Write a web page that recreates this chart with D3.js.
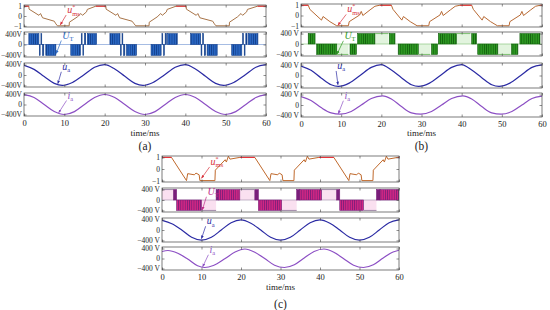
<!DOCTYPE html>
<html>
<head>
<meta charset="utf-8">
<script src="https://cdn.jsdelivr.net/npm/d3@7"></script>
<style>
body { margin: 0; background: #fff; }
svg { display: block; }
text { font-family: "Liberation Serif", "DejaVu Serif", serif; }
</style>
</head>
<body>
<div id="chart"></div>
<script>
// ---- shared ticks ----
const timeTicks = [0, 10, 20, 30, 40, 50, 60];
const refTicks = [-1, 0, 1];
const refTickLabels = ["\u22121", "0", "1"];
const voltTicks = [-400, 0, 400];
const voltLabelsA = ["\u2212400V", "0", "400V"];
const voltLabelsBC = ["\u2212400 V", "0", "400 V"];

// ---- panel (a) ----
const refTA = [0,1.2,1.25,3.7,4.1,4.6,7.5,7.9,8.3,11.2,11.25,13.2,14.1,14.5,15.5,15.7,17.8,20.3,
  20.35,22.8,23.2,23.7,26.8,27.3,27.7,31.0,31.05,33.0,33.9,34.3,35.3,35.5,37.7,40.2,
  40.25,42.7,43.1,43.6,46.8,47.2,47.6,50.9,50.95,52.9,53.8,54.2,55.2,55.4,57.9,60];
const refVA = [1,1,0.7,0.07,0.25,-0.18,-0.53,-0.8,-1,-1,-0.63,-0.1,0.25,0.07,0.42,0.67,1,1,
  0.7,0.07,0.25,-0.18,-0.53,-0.8,-1,-1,-0.63,-0.1,0.25,0.07,0.42,0.67,1,1,
  0.7,0.07,0.25,-0.18,-0.53,-0.8,-1,-1,-0.63,-0.1,0.25,0.07,0.42,0.67,1,1];
const utStartA = [1.2,3.8,4.2,4.6,5.4,11.6,14.2,14.6,15.0,15.7, 21.3,23.9,24.3,24.7,25.4,31.5,34.2,34.6,35.0,35.6, 41.3,43.9,44.3,44.7,45.4,51.5,54.2,54.6,55.0,55.6];
const utEndA   = [3.7,4.0,4.4,4.9,7.9,14.0,14.4,14.8,15.3,18.0, 23.8,24.1,24.5,25.0,27.9,34.0,34.4,34.8,35.3,38.0, 43.8,44.1,44.5,45.0,47.9,54.0,54.4,54.8,55.3,58.0];
const utLevelA = [1,-1,1,-1,-1,-1,1,-1,1,1, 1,-1,1,-1,-1,-1,1,-1,1,1, 1,-1,1,-1,-1,-1,1,-1,1,1];
const utKindA  = ["b","p","p","p","b","b","p","p","p","b", "b","p","p","p","b","b","p","p","p","b", "b","p","p","p","b","b","p","p","p","b"];
const uaTA = [0,2.5,5,7.5,9.5,12,14.8,17.5,20,22.5,25,27.5,29.5,32,34.8,37.5,40,42.5,45,47.5,49.5,52,54.8,57.5,60];
const uaVA = [370,215,-60,-320,-400,-290,0,300,400,230,-50,-320,-400,-290,0,300,400,230,-50,-320,-400,-290,0,300,395];
const iaTA = [0,2.5,5,7.5,10,12.5,15,17.5,20,22.5,25,27.5,30,32.5,35,37.5,40,42.5,45,47.5,50,52.5,55,57.5,60];
const iaVA = [395,280,0,-280,-400,-285,0,280,400,280,0,-280,-400,-285,0,280,400,280,0,-280,-400,-285,0,280,395];

// ---- panel (b) ----
const refTB = [0,1.8,2.2,5.1,5.5,7.2,8.9,11.8,12.0,14.6,15.0,15.4,17.2,18.4,19.6,22.5,
  22.9,25.1,25.5,27.2,28.9,31.8,32.0,34.6,35.0,35.4,37.2,38.4,39.6,42.5,
  42.9,45.1,45.5,47.2,48.9,51.8,52.0,54.6,55.0,55.4,57.2,58.4,59.6,60];
const refVB = [1,1,0.6,-0.45,-0.1,-0.6,-1,-1,-0.6,0.05,0.4,0.0,0.55,0.9,1,1,
  0.6,-0.45,-0.1,-0.6,-1,-1,-0.6,0.05,0.4,0.0,0.55,0.9,1,1,
  0.6,-0.45,-0.1,-0.6,-1,-1,-0.6,0.05,0.4,0.0,0.55,0.9,1,1];
const utStartB = [1.8,3.9,8.9,12.2,14.1,18.4, 22.0,24.2,29.2,32.5,34.2,38.7, 42.5,44.0,49.0,52.4,54.5];
const utEndB   = [3.5,8.9,11.8,13.8,18.4,21.8, 23.4,29.2,32.2,34.0,38.7,42.2, 43.7,49.0,52.2,54.0,59.5];
const utLevelB = [1,-1,-1,-1,1,1, 1,-1,-1,-1,1,1, 1,-1,-1,-1,1];
const utKindB  = ["b","b","f","b","b","f", "b","b","f","b","b","f", "b","b","f","b","b"];
const uaTB = [0,2.5,5,7.5,9.3,12,14.7,17.5,20,22.5,25,27.5,29.3,32,34.7,37.5,40,42.5,45,47.5,49.3,52,54.7,57.5,60];
const uaVB = [350,190,-90,-340,-400,-280,0,300,400,200,-80,-340,-400,-280,0,300,400,200,-80,-340,-400,-280,0,300,390];
const iaTB = [0,2.5,5,7.5,9.8,12.5,15,17.5,20.3,22.5,25,27.5,29.8,32.5,35,37.5,40.3,42.5,45,47.5,49.8,52.5,55,57.5,60];
const iaVB = [320,170,-100,-300,-350,-250,0,250,350,230,-60,-300,-350,-250,0,250,350,230,-60,-300,-350,-250,0,250,340];

// ---- panel (c) ----
const refTC = [0,2.4,6.2,6.5,8.2,8.6,9.4,9.6,13.4,13.5,16.0,16.3,16.8,17.2,19.7,23.5,
  27.3,27.6,29.3,29.7,30.4,30.6,33.4,33.5,36.0,36.3,36.8,37.2,39.7,43.5,
  47.3,47.6,49.3,49.7,50.4,50.6,53.4,53.5,56.0,56.3,56.8,57.2,59.7,60];
const refVC = [1,1,-1,-0.4,-0.5,-0.35,-0.5,-1,-1,-0.1,0.8,0.6,1.1,0.85,1,1,
  -1,-0.4,-0.5,-0.35,-0.5,-1,-1,-0.1,0.8,0.6,1.1,0.85,1,1,
  -1,-0.4,-0.5,-0.35,-0.5,-1,-1,-0.1,0.8,0.6,1.1,0.85,1,1];
const utStartC = [0,2.9,3.7,10,13.7,14.3,19.7,23.5,24.4,30.3,34.1,34.9,40.4,44.2,45,51,54.3,55.2];
const utEndC   = [2.9,3.7,10,13.7,14.3,19.7,23.5,24.4,30.3,34.1,34.9,40.4,44.2,45,51,54.3,55.2,60];
const utLevelC = [1,1,-1,-1,1,1,1,1,-1,-1,1,1,1,1,-1,-1,1,1];
const utKindC  = ["f","p","b","f","p","b","f","p","b","f","p","b","f","p","b","f","p","b"];
const uaTC = [0,2.5,5,7.5,10,12.5,15,17.5,20,22.5,25,27.5,30,32.5,35,37.5,40,42.5,45,47.5,50,52.5,55,57.5,60];
const uaVC = [370,240,0,-280,-390,-280,0,280,390,260,0,-280,-390,-280,0,280,390,260,0,-280,-390,-280,0,280,385];
const iaTC = [0,1.5,4,6.5,9,10.8,13,16,18.5,21,23.5,26,28.5,31,33.5,36,38.5,41,43.5,46,48.5,51,53.5,56,58.5,60];
const iaVC = [280,320,210,-20,-290,-360,-280,0,260,380,250,0,-270,-360,-250,20,280,380,250,-10,-270,-360,-250,20,260,330];

// ---- layout ----
const panels = [
  { cap: "(a)", left: 24, right: 266, rows: [[5,27],[32,57],[63,87],[93,116]], xlabY: 136, capY: 150,
    refT: refTA, refV: refVA, utS: utStartA, utE: utEndA, utL: utLevelA, utK: utKindA,
    uaT: uaTA, uaV: uaVA, iaT: iaTA, iaV: iaVA, vLab: voltLabelsA,
    refColor: "#a87448", utColor: "#2a68c4", utDark: "#123f8c", utFlat: "#6a8fd0", utPale: "#e4f4fa", utLabel: "#2a68c4",
    ann: [[10.7,0.3,9.0,-0.9],[9.5,220,8.0,-330],[9.5,200,8.4,-330],[10.8,240,8.6,-330]] },
  { cap: "(b)", left: 301, right: 542, rows: [[4,27],[32,56],[63,88],[93,117]], xlabY: 136, capY: 150,
    refT: refTB, refV: refVB, utS: utStartB, utE: utEndB, utL: utLevelB, utK: utKindB,
    uaT: uaTB, uaV: uaVB, iaT: iaTB, iaV: iaVB, vLab: voltLabelsBC,
    refColor: "#b86a34", utColor: "#2e9a22", utDark: "#12600e", utFlat: "#7cc070", utPale: "#e2f4de", utLabel: "#2e9a22",
    ann: [[11.5,0.3,9.2,-0.95],[10.8,200,9.0,-380],[9.0,240,9.2,-340],[10.8,240,9.3,-330]] },
  { cap: "(c)", left: 162, right: 399, rows: [[156,182],[188,212],[218,242],[247,270]], xlabY: 290, capY: 308,
    refT: refTC, refV: refVC, utS: utStartC, utE: utEndC, utL: utLevelC, utK: utKindC,
    uaT: uaTC, uaV: uaVC, iaT: iaTC, iaV: iaVC, vLab: voltLabelsBC,
    refColor: "#c0692c", utColor: "#d22683", utDark: "#7a1e7a", utFlat: "#a08aa8", utPale: "#fae0f0", utLabel: "#c02a88",
    ann: [[12.3,0.35,10.0,-0.8],[11.5,200,10.2,-380],[11.3,220,10.0,-330],[12.0,230,10.3,-330]] }
];

const uaColor = "#2b2ba4";
const iaColor = "#8c4fc4";

const svg = d3.select("#chart").append("svg")
  .attr("width", 550).attr("height", 310);
const defs = svg.append("defs");

function addMarker(id, color) {
  defs.append("marker").attr("id", id)
    .attr("viewBox", "0 0 10 10").attr("refX", 9).attr("refY", 5)
    .attr("markerWidth", 5).attr("markerHeight", 5).attr("orient", "auto")
    .append("path").attr("d", "M0,1L10,5L0,9z").attr("fill", color);
}
function addStripes(id, bg, fg) {
  const p = defs.append("pattern").attr("id", id)
    .attr("patternUnits", "userSpaceOnUse").attr("width", 2.2).attr("height", 10);
  p.append("rect").attr("width", 2.2).attr("height", 10).attr("fill", bg);
  p.append("rect").attr("width", 0.8).attr("height", 10).attr("fill", fg);
}

function label(g, x, y, main, sub, sup, color) {
  const t = g.append("text").attr("x", x).attr("y", y).attr("fill", color)
    .attr("font-size", 10);
  t.append("tspan").attr("font-style", "italic").text(main);
  if (sup) t.append("tspan").attr("font-size", 6).attr("dy", -4).text(sup);
  t.append("tspan").attr("font-size", 6.5).attr("dx", sup ? -3 : 0).attr("dy", sup ? 6.5 : 2.5).text(sub);
}

panels.forEach(function(p, pi) {
  const g = svg.append("g");
  const x = d3.scaleLinear().domain([0, 60]).range([p.left, p.right]);
  const ys = p.rows.map(function(r, i) {
    const dom = i === 0 ? [-1.12, 1.12] : [-460, 460];
    return d3.scaleLinear().domain(dom).range([r[1], r[0]]);
  });
  const mk = "arr" + pi;
  addStripes("str" + pi, p.utColor, p.utDark);

  p.rows.forEach(function(r, i) {
    defs.append("clipPath").attr("id", "clip" + pi + i)
      .append("rect").attr("x", p.left).attr("y", r[0]).attr("width", p.right - p.left).attr("height", r[1] - r[0]);
  });

  // --- row 1: reference u* ---
  const refPts = p.refT.map(function(t, i) { return [t, p.refV[i]]; });
  const refLine = d3.line().x(function(d) { return x(d[0]); }).y(function(d) { return ys[0](d[1]); });
  g.append("path").datum(refPts)
    .attr("clip-path", "url(#clip" + pi + "0)")
    .attr("fill", "none").attr("stroke", p.refColor).attr("stroke-width", 1)
    .attr("d", refLine);
  // saturated tops drawn in red
  const tops = [];
  refPts.forEach(function(d, i) {
    if (i > 0 && d[1] >= 1 && refPts[i - 1][1] >= 1) tops.push([refPts[i - 1], d]);
  });
  g.selectAll("path.top").data(tops).enter().append("path").attr("class", "top")
    .attr("clip-path", "url(#clip" + pi + "0)")
    .attr("fill", "none").attr("stroke", "#e8303a").attr("stroke-width", 1.1)
    .attr("d", refLine);

  // --- row 2: U_T ---
  const y2 = ys[1];
  const ut = p.utS.map(function(s, i) { return { s: s, e: p.utE[i], l: p.utL[i] * 400, k: p.utK[i] }; });
  const utG = g.append("g").attr("clip-path", "url(#clip" + pi + "1)");
  // pale band behind held (flat) levels
  utG.selectAll("rect.pale").data(ut.filter(function(d) { return d.k === "f"; })).enter().append("rect")
    .attr("class", "pale")
    .attr("x", function(d) { return x(d.s); })
    .attr("width", function(d) { return x(d.e) - x(d.s); })
    .attr("y", function(d) { return Math.min(y2(0), y2(d.l)); })
    .attr("height", function(d) { return Math.abs(y2(d.l) - y2(0)); })
    .attr("fill", p.utPale);
  utG.append("line").attr("x1", p.left).attr("x2", p.right).attr("y1", y2(0)).attr("y2", y2(0))
    .attr("stroke", p.utFlat).attr("stroke-width", 0.6);
  utG.selectAll("rect.blk").data(ut.filter(function(d) { return d.k !== "f"; })).enter().append("rect")
    .attr("class", "blk")
    .attr("x", function(d) { return x(d.s); })
    .attr("width", function(d) { return x(d.e) - x(d.s); })
    .attr("y", function(d) { return Math.min(y2(0), y2(d.l)); })
    .attr("height", function(d) { return Math.abs(y2(d.l) - y2(0)); })
    .attr("fill", function(d) { return d.k === "b" ? "url(#str" + pi + ")" : p.utDark; })
    .attr("stroke", p.utDark).attr("stroke-width", 0.6);
  utG.selectAll("line.flat").data(ut.filter(function(d) { return d.k === "f"; })).enter().append("line")
    .attr("class", "flat")
    .attr("x1", function(d) { return x(d.s); }).attr("x2", function(d) { return x(d.e); })
    .attr("y1", function(d) { return y2(d.l); }).attr("y2", function(d) { return y2(d.l); })
    .attr("stroke", p.utFlat).attr("stroke-width", 1);

  // --- rows 3 & 4: u_a, i_a ---
  const sineLine = function(yy) {
    return d3.line().curve(d3.curveMonotoneX)
      .x(function(d) { return x(d[0]); }).y(function(d) { return yy(d[1]); });
  };
  g.append("path").datum(p.uaT.map(function(t, i) { return [t, p.uaV[i]]; }))
    .attr("clip-path", "url(#clip" + pi + "2)")
    .attr("fill", "none").attr("stroke", uaColor).attr("stroke-width", 1.2)
    .attr("d", sineLine(ys[2]));
  g.append("path").datum(p.iaT.map(function(t, i) { return [t, p.iaV[i]]; }))
    .attr("clip-path", "url(#clip" + pi + "3)")
    .attr("fill", "none").attr("stroke", iaColor).attr("stroke-width", 1.2)
    .attr("d", sineLine(ys[3]));

  // --- frames and axes ---
  p.rows.forEach(function(r, i) {
    const yy = ys[i];
    g.append("rect").attr("x", p.left).attr("y", r[0])
      .attr("width", p.right - p.left).attr("height", r[1] - r[0])
      .attr("fill", "none").attr("stroke", "#444").attr("stroke-width", 0.7);
    g.append("g").attr("class", "xax").attr("transform", "translate(0," + r[1] + ")")
      .call(d3.axisBottom(x).tickValues(timeTicks).tickSize(-2.5).tickPadding(4).tickFormat(i === 3 ? d3.format("d") : ""))
      .call(function(a) { a.select(".domain").remove(); });
    g.append("g").attr("transform", "translate(0," + r[0] + ")")
      .call(d3.axisTop(x).tickValues(timeTicks).tickSize(-2.5).tickFormat(""))
      .call(function(a) { a.select(".domain").remove(); });
    const labs = i === 0 ? refTickLabels : p.vLab;
    const vals = i === 0 ? refTicks : voltTicks;
    g.append("g").attr("transform", "translate(" + p.left + ",0)")
      .call(d3.axisLeft(yy).tickValues(vals).tickSize(-2.5).tickPadding(2)
        .tickFormat(function(d, k) { return labs[k]; }))
      .call(function(a) { a.select(".domain").remove(); });
    g.append("g").attr("transform", "translate(" + p.right + ",0)")
      .call(d3.axisRight(yy).tickValues(vals).tickSize(-2.5).tickFormat(""))
      .call(function(a) { a.select(".domain").remove(); });
  });
  g.selectAll(".tick line").attr("stroke", "#444").attr("stroke-width", 0.6);
  g.selectAll(".tick text").attr("font-family", "Liberation Serif").attr("font-size", 7.5).attr("fill", "#222");
  g.selectAll(".xax .tick text").attr("font-size", 8.5);

  // --- annotations ---
  const annColors = ["#d8323c", p.utLabel, uaColor, iaColor];
  annColors.forEach(function(c, i) { addMarker(mk + i, c); });
  const names = [["u", "ms", "*"], ["U", "T", null], ["u", "a", null], ["i", "a", null]];
  p.ann.forEach(function(a, i) {
    const yy = ys[i];
    const lx = x(a[0]), ly = yy(a[1]);
    label(g, lx, ly, names[i][0], names[i][1], names[i][2], annColors[i]);
    g.append("line").attr("x1", lx - 1).attr("y1", ly + 2)
      .attr("x2", x(a[2])).attr("y2", yy(a[3]))
      .attr("stroke", annColors[i]).attr("stroke-width", 0.7)
      .attr("marker-end", "url(#" + mk + i + ")");
  });

  // --- axis title and caption ---
  g.append("text").attr("x", (p.left + p.right) / 2).attr("y", p.xlabY)
    .attr("text-anchor", "middle").attr("font-size", 9).attr("fill", "#222").text("time/ms");
  g.append("text").attr("x", (p.left + p.right) / 2).attr("y", p.capY)
    .attr("text-anchor", "middle").attr("font-size", 11.5).attr("fill", "#222").text(p.cap);
});
</script>
</body>
</html>
